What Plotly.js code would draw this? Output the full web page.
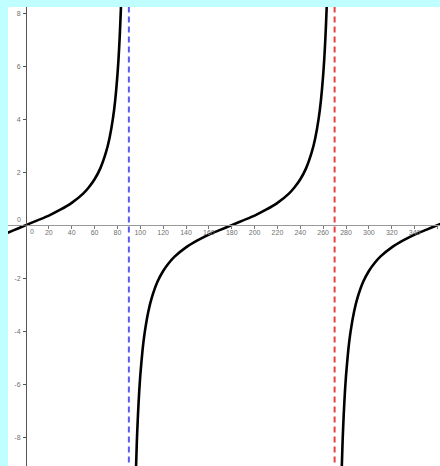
<!DOCTYPE html>
<html>
<head>
<meta charset="utf-8">
<script src="https://cdn.plot.ly/plotly-3.0.1.min.js"></script>
<style>html,body{margin:0;padding:0;background:#c0ffff;}#chart{width:440px;height:466px;}</style>
</head>
<body>
<div id="chart"></div>
<script>
// Curve y = tan(x°), branches separated by null
const curveX = [-16, -10, -5, 0, 10, 20, 30, 40, 50, 55, 60, 65, 70, 73, 76, 78, 80, 81, 82, 83, 84,
  null,
  96, 97, 98, 99, 100, 102, 104, 107, 110, 115, 120, 125, 130, 140, 150, 160, 170, 180, 190, 200, 210, 220, 230, 235, 240, 245, 250, 253, 256, 258, 260, 261, 262, 263, 264,
  null,
  276, 277, 278, 279, 280, 282, 284, 287, 290, 295, 300, 305, 310, 320, 330, 340, 350, 360, 365];
const curveY = [-0.29, -0.18, -0.09, 0, 0.18, 0.36, 0.58, 0.84, 1.19, 1.43, 1.73, 2.14, 2.75, 3.27, 4.01, 4.70, 5.67, 6.31, 7.12, 8.14, 9.51,
  null,
  -9.51, -8.14, -7.12, -6.31, -5.67, -4.70, -4.01, -3.27, -2.75, -2.14, -1.73, -1.43, -1.19, -0.84, -0.58, -0.36, -0.18, 0, 0.18, 0.36, 0.58, 0.84, 1.19, 1.43, 1.73, 2.14, 2.75, 3.27, 4.01, 4.70, 5.67, 6.31, 7.12, 8.14, 9.51,
  null,
  -9.51, -8.14, -7.12, -6.31, -5.67, -4.70, -4.01, -3.27, -2.75, -2.14, -1.73, -1.43, -1.19, -0.84, -0.58, -0.36, -0.18, 0, 0.09];
// Vertical asymptotes
const asymptoteX = [90, 270];
const asymptoteColors = ['#5a5af0', '#e84040'];
// Tick labels
const xTicks = [0, 20, 40, 60, 80, 100, 120, 140, 160, 180, 200, 220, 240, 260, 280, 300, 320, 340, 360];
const yTicks = [-8, -6, -4, -2, 0, 2, 4, 6, 8];
const originLabel = '0';

const xRange = [-15.75, 362.2];
const yRange = [-9.09, 8.23];

const tickFont = {family: 'Liberation Sans, Arial, sans-serif', size: 7, color: '#707070'};

const traces = [];
asymptoteX.forEach((ax, i) => {
  traces.push({
    x: [ax, ax], y: [yRange[0] - 1, yRange[1] + 1],
    mode: 'lines', type: 'scatter', hoverinfo: 'skip',
    line: {color: asymptoteColors[i], width: 2, dash: '6px,4px'}
  });
});
traces.push({
  x: curveX, y: curveY, mode: 'lines', type: 'scatter',
  line: {color: '#000000', width: 2.6, shape: 'spline', smoothing: 0.6},
  connectgaps: false
});

const layout = {
  width: 440, height: 466,
  margin: {l: 8, r: 0, t: 7, b: 0, pad: 0},
  paper_bgcolor: '#c0ffff',
  plot_bgcolor: '#ffffff',
  showlegend: false,
  xaxis: {
    range: xRange, anchor: 'free',
    position: (0 - yRange[0]) / (yRange[1] - yRange[0]),
    tickvals: xTicks, ticktext: xTicks.map(v => v === 0 ? '' : String(v)),
    showgrid: false, zeroline: false,
    showline: true, linecolor: '#999999', linewidth: 1,
    ticks: 'outside', ticklen: 3, tickcolor: '#777777', tickwidth: 1,
    tickfont: tickFont,
    ticklabelstandoff: -3
  },
  yaxis: {
    range: yRange, anchor: 'free',
    position: (0 - xRange[0]) / (xRange[1] - xRange[0]),
    tickvals: yTicks, ticktext: yTicks.map(v => v === 0 ? '' : String(v)),
    showgrid: false, zeroline: false,
    showline: true, linecolor: '#555555', linewidth: 1,
    ticks: 'outside', ticklen: 3, tickcolor: '#555555', tickwidth: 1,
    tickfont: tickFont,
    ticklabelstandoff: 1
  },
  annotations: [
    {x: 0, y: 0, xref: 'x', yref: 'y', text: originLabel, showarrow: false,
     xanchor: 'right', yanchor: 'bottom', xshift: -3, yshift: 0, font: tickFont},
    {x: 0, y: 0, xref: 'x', yref: 'y', text: originLabel, showarrow: false,
     xanchor: 'left', yanchor: 'top', xshift: 2, yshift: -1, font: tickFont}
  ]
};

Plotly.newPlot('chart', traces, layout, {staticPlot: true, displayModeBar: false});
</script>
</body>
</html>
